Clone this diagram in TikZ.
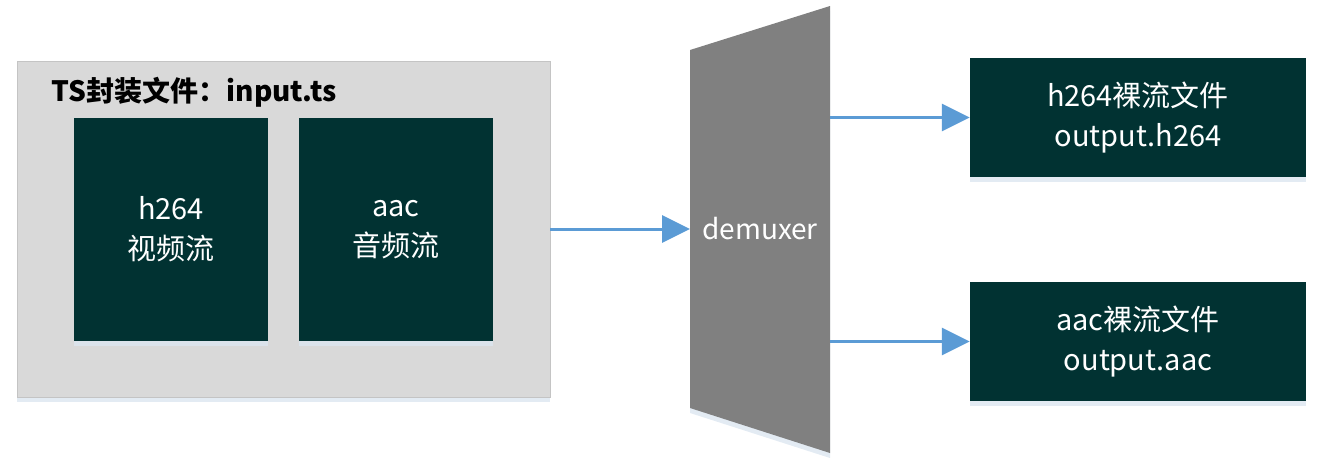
\documentclass[tikz,border=0pt]{standalone}
\usepackage{fontspec}
\setmainfont{Noto Sans CJK SC}
\usetikzlibrary{arrows.meta,positioning,shadows}

\definecolor{streamfill}{HTML}{013232}
\definecolor{boxgray}{HTML}{D9D9D9}
\definecolor{boxline}{HTML}{C4C4C4}
\definecolor{demuxgray}{HTML}{808080}
\definecolor{flowblue}{HTML}{5B9BD5}
\definecolor{shadowblue}{HTML}{DCE6F0}

\tikzset{
    soft/.style={drop shadow={shadow xshift=0pt, shadow yshift=-5pt, fill=shadowblue, opacity=0.8}},
    container/.style={draw=boxline, fill=boxgray, line width=0.8pt, soft},
    stream/.style={fill=streamfill, text=white, align=center, soft,
        font=\fontsize{29}{40}\selectfont},
    flow/.style={draw=flowblue, line width=3pt, -{Triangle[length=28pt, width=27pt]}}
}

\begin{document}
\begin{tikzpicture}[x=1pt, y=-1pt]
    \useasboundingbox (0,0) rectangle (1326,461);

    % TS container
    \node [container, minimum width=533, minimum height=336] (ts) at (283.5,229) {};
    \node [anchor=west, font=\fontsize{28}{32}\selectfont\bfseries] (tstitle) at (48,92) {TS封装文件：input.ts};
    \node [stream, minimum width=194, minimum height=223] (video) at (171,229.5) {h264\\视频流};
    \node [stream, minimum width=194, minimum height=223] (audio) at (396,229.5) {aac\\音频流};

    % demuxer
    \fill [demuxgray, soft] (690,50) -- (830,6) -- (830,453) -- (690,408) -- cycle;
    \node [text=white, font=\fontsize{28}{32}\selectfont] (demux) at (760,229) {demuxer};
    \coordinate (demux in) at (690,229);
    \coordinate (demux out1) at (830,117.5);
    \coordinate (demux out2) at (830,341.5);

    % output files
    \node [stream, minimum width=336, minimum height=119] (h264file) at (1138,117.5) {h264裸流文件\\output.h264};
    \node [stream, minimum width=336, minimum height=119] (aacfile) at (1138,341.5) {aac裸流文件\\output.aac};

    \draw [flow] (ts.east) -- (demux in);
    \draw [flow] (demux out1) -- (h264file.west);
    \draw [flow] (demux out2) -- (aacfile.west);
\end{tikzpicture}
\end{document}
